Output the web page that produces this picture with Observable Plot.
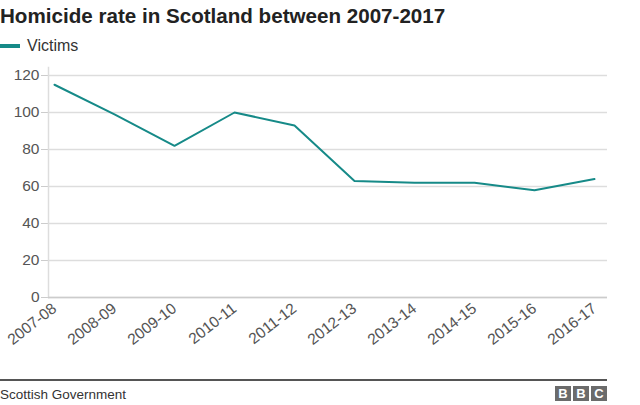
<!DOCTYPE html>
<html>
<head>
<meta charset="utf-8">
<script src="https://cdn.jsdelivr.net/npm/d3@7"></script>
<script src="https://cdn.jsdelivr.net/npm/@observablehq/plot@0.6"></script>
<style>
  html, body { margin: 0; padding: 0; background: #fff; width: 640px; height: 405px; overflow: hidden; }
  body { font-family: "Liberation Sans", Arial, Helvetica, sans-serif; position: relative; }
  #title { position: absolute; left: 0; top: 4px; font-size: 20.6px; font-weight: bold; color: #222; white-space: nowrap; }
  #legend { position: absolute; left: 0; top: 37px; font-size: 16px; color: #333; display: flex; align-items: center; }
  #legend .sw { width: 20px; height: 4px; background: #168a88; margin-right: 7px; }
  #chart { position: absolute; left: 0; top: 62px; }
  #footer { position: absolute; left: 0; top: 379px; width: 607px; border-top: 2px solid #555; height: 26px; }
  #source { position: absolute; left: 0; top: 6px; font-size: 13.5px; color: #333; }
  #bbc { position: absolute; right: 0; top: 5px; display: flex; gap: 2px; }
  #bbc span { width: 16px; height: 15px; background: #6b6b6b; color: #fff; font-weight: bold; font-size: 13px; line-height: 15px; text-align: center; }
</style>
</head>
<body>
<div id="title">Homicide rate in Scotland between 2007-2017</div>
<div id="legend"><div class="sw"></div><span>Victims</span></div>
<div id="chart"></div>
<div id="footer"><div id="source">Scottish Government</div><div id="bbc"><span>B</span><span>B</span><span>C</span></div></div>
<script>
const years = ["2007-08", "2008-09", "2009-10", "2010-11", "2011-12", "2012-13", "2013-14", "2014-15", "2015-16", "2016-17"];
const victims = [115, 99, 82, 100, 93, 63, 62, 62, 58, 64];
const yTicks = [0, 20, 40, 60, 80, 100, 120];

const data = years.map((y, i) => ({year: y, value: victims[i]}));

const chart = Plot.plot({
  width: 640,
  height: 316,
  marginLeft: 48,
  marginRight: 33,
  marginTop: 5,
  marginBottom: 81,
  style: {fontFamily: '"Liberation Sans", Arial, sans-serif', fontSize: "15px", color: "#555", background: "#fff"},
  x: {type: "point", domain: years, padding: 0, insetLeft: 2.5, insetRight: 9},
  y: {domain: [0, 120], insetTop: 8},
  marks: [
    Plot.gridY(yTicks, {stroke: "#ddd", strokeOpacity: 1, strokeWidth: 1.5}),
    Plot.axisY(yTicks, {tickSize: 7, tickPadding: 2, stroke: "#ccc", strokeOpacity: 1, fill: "#555", label: null, fontSize: 15.5}),
    Plot.frame({anchor: "left", stroke: "#ddd", strokeWidth: 1.5}),
    Plot.ruleY([0], {stroke: "#ccc", strokeWidth: 1.5}),
    Plot.axisX({tickSize: 0, tickRotate: -38, tickPadding: 9, fill: "#555", label: null, fontSize: 15.5}),
    Plot.line(data, {x: "year", y: "value", stroke: "#168a88", strokeWidth: 2})
  ]
});
document.getElementById("chart").appendChild(chart);
</script>
</body>
</html>
